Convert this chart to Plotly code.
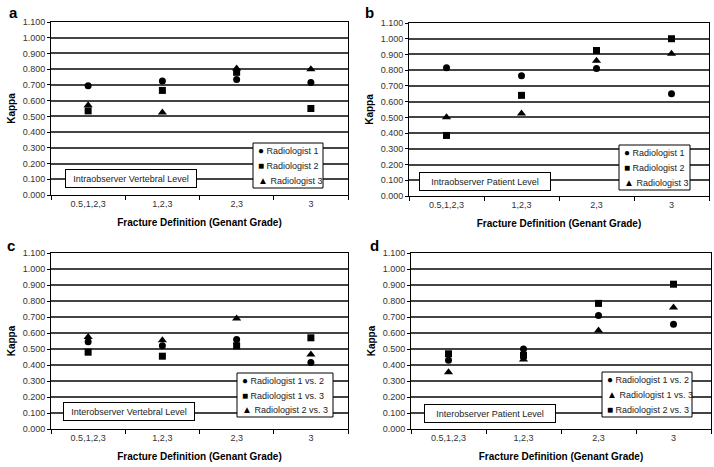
import plotly.graph_objects as go

categories = ["0.5,1,2,3", "1,2,3", "2,3", "3"]

# Panel a: Intraobserver Vertebral Level
a_names = ["Radiologist 1", "Radiologist 2", "Radiologist 3"]
a_r1 = [0.695, 0.725, 0.735, 0.715]
a_r2 = [0.535, 0.665, 0.780, 0.550]
a_r3 = [0.570, 0.525, 0.805, 0.800]

# Panel b: Intraobserver Patient Level
b_names = ["Radiologist 1", "Radiologist 2", "Radiologist 3"]
b_r1 = [0.815, 0.765, 0.810, 0.650]
b_r2 = [0.385, 0.640, 0.925, 1.000]
b_r3 = [0.500, 0.525, 0.860, 0.905]

# Panel c: Interobserver Vertebral Level
c_names = ["Radiologist 1 vs. 2", "Radiologist 1 vs. 3", "Radiologist 2 vs. 3"]
c_s1 = [0.545, 0.520, 0.560, 0.415]
c_s2 = [0.480, 0.455, 0.520, 0.570]
c_s3 = [0.575, 0.555, 0.690, 0.465]

# Panel d: Interobserver Patient Level
d_names = ["Radiologist 1 vs. 2", "Radiologist 1 vs. 3", "Radiologist 2 vs. 3"]
d_s1 = [0.430, 0.500, 0.710, 0.655]
d_s2 = [0.355, 0.435, 0.615, 0.760]
d_s3 = [0.470, 0.460, 0.785, 0.905]

panel_titles = ["Intraobserver Vertebral Level", "Intraobserver Patient Level",
                "Interobserver Vertebral Level", "Interobserver Patient Level"]
panel_letters = ["a", "b", "c", "d"]

W, H = 714, 467
FONT = "Liberation Sans, Arial, sans-serif"

# panel geometry in pixels: (left, right, top, bottom)
geo = [(51, 348, 22, 195), (409, 709, 23, 196), (51, 348, 253, 429), (411, 711, 253, 429)]
# legend boxes: (left, right, top, bottom)
legend_box = [(253, 323, 143, 188), (619, 690, 145, 190), (237, 333, 373, 417), (602, 692, 372, 417)]
box_center = [(130.5, 178.5), (484.5, 181), (129, 411.5), (489.5, 413)]
letter_pos = [(7, 2), (363, 2), (5, 235), (368, 235)]

panels = [
    (a_names, [a_r1, a_r2, a_r3], ["circle", "square", "triangle-up"]),
    (b_names, [b_r1, b_r2, b_r3], ["circle", "square", "triangle-up"]),
    (c_names, [c_s1, c_s2, c_s3], ["circle", "square", "triangle-up"]),
    (d_names, [d_s1, d_s2, d_s3], ["circle", "triangle-up", "square"]),
]
sizes = {"circle": 7, "square": 7, "triangle-up": 8}
glyph = {"circle": "●", "square": "■", "triangle-up": "▲"}

fig = go.Figure()
layout = dict(
    width=W, height=H, margin=dict(l=0, r=0, t=0, b=0, autoexpand=False),
    paper_bgcolor="white", plot_bgcolor="white",
    font=dict(family=FONT, color="black"),
    showlegend=False, annotations=[], shapes=[],
)

for i, (names, series, symbols) in enumerate(panels):
    k = "" if i == 0 else str(i + 1)
    xa, ya = "x" + k, "y" + k
    for nm, vals, sym in zip(names, series, symbols):
        fig.add_trace(go.Scatter(
            x=categories, y=vals, mode="markers", name=nm,
            marker=dict(symbol=sym, size=sizes[sym], color="black"),
            xaxis=xa, yaxis=ya, showlegend=False,
        ))
    l, r, t, b = geo[i]
    layout["xaxis" + k] = dict(
        domain=[l / W, r / W], anchor=ya, type="category", automargin=False,
        categoryorder="array", categoryarray=categories,
        range=[-0.5, 3.5], tickson="boundaries", ticks="outside", ticklen=4,
        tickcolor="black", showgrid=False, zeroline=False,
        showline=True, linecolor="black", linewidth=1, mirror=True,
        tickfont=dict(size=9, color="#333"),
        title=dict(text="<b>Fracture Definition (Genant Grade)</b>",
                   font=dict(size=10), standoff=11),
    )
    layout["yaxis" + k] = dict(
        domain=[1 - b / H, 1 - t / H], anchor=xa, range=[0, 1.1], dtick=0.1,
        tick0=0, tickformat=".3f", ticks="outside", ticklen=3, tickcolor="black",
        automargin=False,
        showgrid=True, gridcolor="#444444", gridwidth=1.8, zeroline=False,
        showline=True, linecolor="black", linewidth=1, mirror=True,
        tickfont=dict(size=9, color="#333"),
        title=dict(text="<b>Kappa</b>", font=dict(size=10), standoff=5),
    )
    # legend box with one text line per series
    bl, br, bt, bb = legend_box[i]
    layout["shapes"].append(dict(
        type="rect", xref="paper", yref="paper",
        x0=bl / W, x1=br / W, y0=1 - bb / H, y1=1 - bt / H,
        line=dict(color="black", width=1), fillcolor="white", layer="above",
    ))
    step = (bb - bt) / 3.0
    for j, (n, s) in enumerate(zip(names, symbols)):
        yc = bt + step * (j + 0.5)
        layout["annotations"].append(dict(
            text="<span style='font-size:10px;color:black'>" + glyph[s] + "</span> " + n,
            x=(bl + 3) / W, y=1 - yc / H,
            xref="paper", yref="paper", showarrow=False,
            xanchor="left", yanchor="middle", align="left",
            font=dict(size=9, color="#222"),
        ))
    cx, cy = box_center[i]
    layout["annotations"].append(dict(
        text=panel_titles[i], x=cx / W, y=1 - cy / H, xref="paper", yref="paper",
        showarrow=False, xanchor="center", yanchor="middle",
        width=126, height=13, borderpad=2, bordercolor="black", borderwidth=1,
        bgcolor="white", font=dict(size=9, color="#222"),
    ))
    px, py = letter_pos[i]
    layout["annotations"].append(dict(
        text="<b>" + panel_letters[i] + "</b>", x=px / W, y=1 - py / H,
        xref="paper", yref="paper", showarrow=False, xanchor="left", yanchor="top",
        font=dict(size=15, color="black"),
    ))

fig.update_layout(**layout)
fig.write_html("out.html", config={"displayModeBar": False},
               post_script="document.body.style.margin='0px';")
